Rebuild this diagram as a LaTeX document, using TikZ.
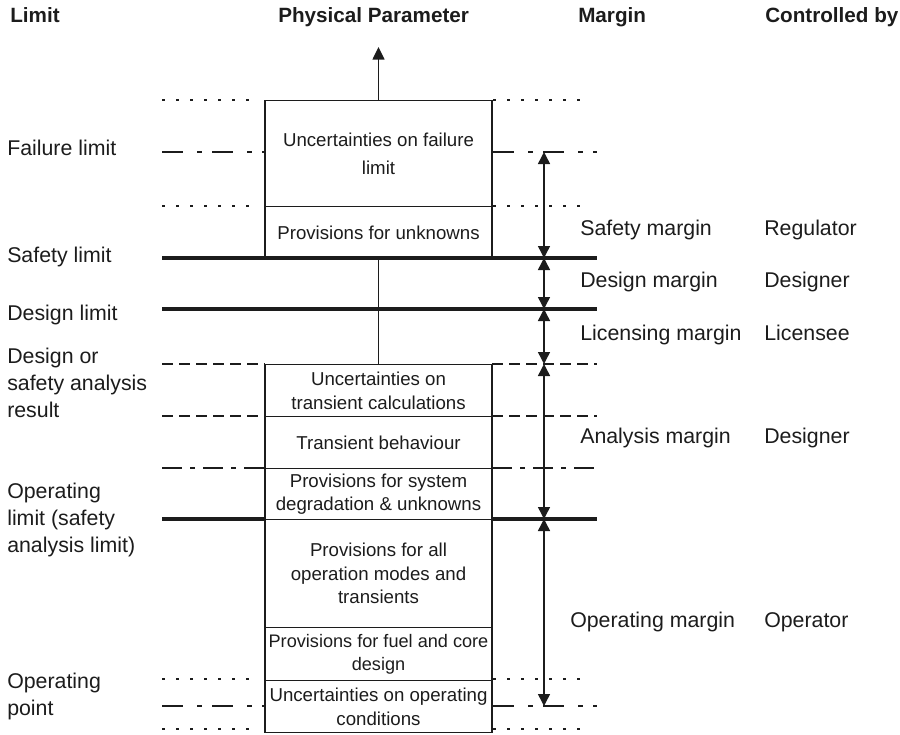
\documentclass[tikz,border=0pt]{standalone}
\usepackage{fontspec}
\setmainfont{Liberation Sans}
\usetikzlibrary{arrows.meta}
\definecolor{ink}{HTML}{1C1C1C}
\tikzset{
  head/.style={font=\fontsize{15.5pt}{18pt}\selectfont\bfseries, text=ink, inner sep=0pt, anchor=base west},
  lbl/.style={font=\fontsize{16pt}{20pt}\selectfont, text=ink, inner sep=0pt, align=left, anchor=base west},
  layer/.style={draw=ink, line width=1.1pt, minimum width=170.25pt, inner sep=0pt, anchor=north,
    font=\fontsize{14pt}{17.6pt}\selectfont, text=ink, align=center},
  hardline/.style={draw=ink, line width=2.3pt},
  dotline/.style={draw=ink, line width=1.8pt, dash pattern=on 2.2pt off 8.3pt},
  chainline/.style={draw=ink, line width=2pt, dash pattern=on 15.75pt off 10.5pt on 3.75pt off 7.5pt},
  thinchain/.style={draw=ink, line width=1pt, dash pattern=on 15pt off 6pt on 3.75pt off 6pt},
  dashline/.style={draw=ink, line width=1.1pt, dash pattern=on 8.25pt off 4.5pt},
  tip/.style={Triangle[width=9pt,length=9pt]},
  margin/.style={draw=ink, line width=1.1pt, {Triangle[width=9pt,length=9pt]}-{Triangle[width=9pt,length=9pt]}},
}
\begin{document}
\begin{tikzpicture}[x=0.75pt,y=-0.75pt]
\useasboundingbox (0,0) rectangle (900,735);

% column headings
\node[head] (hLimit) at (10,23) {Limit};
\node[head] (hParam) at (278,23) {Physical Parameter};
\node[head] (hMargin) at (578,23) {Margin};
\node[head] (hCtrl) at (765,23) {Controlled by};

% upper stack of the physical parameter
\node[layer, minimum height=79.5pt, font=\fontsize{14pt}{21.5pt}\selectfont] (b1) at (378.5,100) {Uncertainties on failure\\limit};
\node[layer, minimum height=39pt] (b2) at (378.5,206) {Provisions for unknowns};

% lower stack
\node[layer, minimum height=39pt] (b3) at (378.5,364) {Uncertainties on\\transient calculations};
\node[layer, minimum height=39pt] (b4) at (378.5,416) {Transient behaviour};
\node[layer, minimum height=38.25pt] (b5) at (378.5,468) {Provisions for system\\degradation \& unknowns};
\node[layer, minimum height=81pt] (b6) at (378.5,519) {Provisions for all\\operation modes and\\transients};
\node[layer, minimum height=39.75pt, font=\fontsize{13.6pt}{17.6pt}\selectfont] (b7) at (378.5,627) {Provisions for fuel and core\\design};
\node[layer, minimum height=39pt] (b8) at (378.5,680) {Uncertainties on operating\\conditions};

% axis of the physical parameter
\coordinate (top) at (378.5,47);
\draw[draw=ink, line width=1.1pt, -{Triangle[width=9pt,length=9.5pt]}] (b1.north) -- (top);
\draw[draw=ink, line width=1.1pt] (b2.south) -- (b3.north);

% limit levels
\path[dotline] (162,100) -- (258,100) (493,100) -- (590,100);
\path[chainline] (162,152) -- (265,152) (493,152) -- (597,152);
\path[dotline] (162,206) -- (258,206) (493,206) -- (590,206);
\path[hardline] (162,258) -- (597,258);
\path[hardline] (162,309) -- (597,309);
\path[dashline] (162,364) -- (265,364) (492,364) -- (597,364);
\path[dashline] (162,416) -- (265,416) (492,416) -- (597,416);
\path[thinchain] (162,468) -- (265,468) (492,468) -- (597,468);
\path[hardline] (162,519) -- (265,519) (492,519) -- (597,519);
\path[dotline] (162,679) -- (258,679) (493,679) -- (590,679);
\path[chainline] (162,706) -- (265,706) (493,706) -- (597,706);
\path[dotline] (162,729) -- (258,729) (493,729) -- (590,729);

% margin arrows
\coordinate (mFail) at (544,152);
\coordinate (mSafe) at (544,258);
\coordinate (mDes) at (544,309);
\coordinate (mRes) at (544,364);
\coordinate (mOpl) at (544,519);
\coordinate (mOpp) at (544,706);
\draw[margin] (mFail) -- (mSafe);
\draw[margin] (mSafe) -- (mDes);
\draw[margin] (mDes) -- (mRes);
\draw[margin] (mRes) -- (mOpl);
\draw[margin] (mOpl) -- (mOpp);

% limit names (multi-line nodes sit on their last baseline)
\node[lbl] (lFail) at (7,155) {Failure limit};
\node[lbl] (lSafe) at (7,262) {Safety limit};
\node[lbl] (lDes) at (7,320) {Design limit};
\node[lbl] (lRes) at (7,417) {Design or\\safety analysis\\result};
\node[lbl] (lOpl) at (7,552) {Operating\\limit (safety\\analysis limit)};
\node[lbl] (lOpp) at (7,715) {Operating\\point};

% margins
\node[lbl] (gSafe) at (580,235) {Safety margin};
\node[lbl] (gDes) at (580,287) {Design margin};
\node[lbl] (gLic) at (580,340) {Licensing margin};
\node[lbl] (gAna) at (580,443) {Analysis margin};
\node[lbl] (gOp) at (570,627) {Operating margin};

% responsible parties
\node[lbl] (cSafe) at (764,235) {Regulator};
\node[lbl] (cDes) at (764,287) {Designer};
\node[lbl] (cLic) at (764,340) {Licensee};
\node[lbl] (cAna) at (764,443) {Designer};
\node[lbl] (cOp) at (764,627) {Operator};
\end{tikzpicture}
\end{document}
